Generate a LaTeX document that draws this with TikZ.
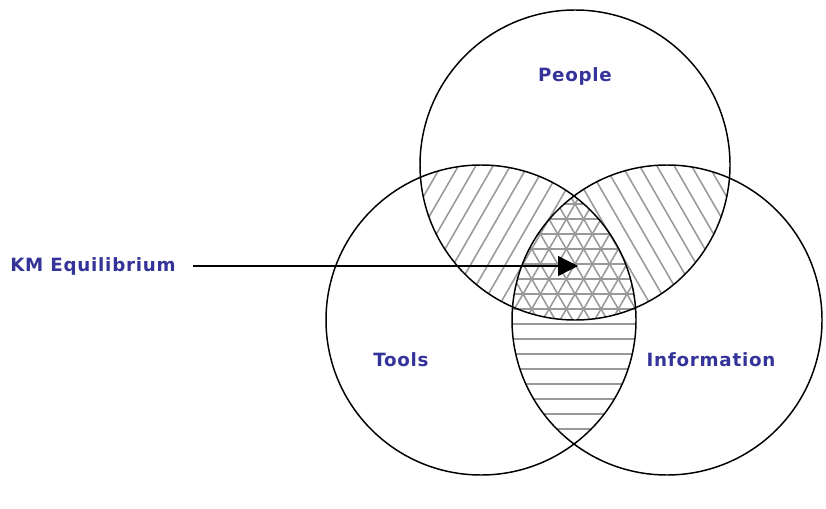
\documentclass[tikz,border=0pt]{standalone}
\usepackage{fontspec}
\usepackage{tikz}
\usetikzlibrary{arrows.meta}
\newfontfamily\vennfont[LetterSpace=4]{DejaVu Sans}
\definecolor{vennblue}{RGB}{51,51,153}

\begin{document}
\begin{tikzpicture}[x=0.025cm, y=0.025cm, >={Triangle[length=0.5cm, width=0.5cm]},
	every node/.style={font=\vennfont\bfseries\fontsize{13}{15}\selectfont, text=vennblue},
	ring/.style={draw, line width=1.05pt},
	hatch/.style={draw=black!40, line width=1.1pt}]
	\useasboundingbox (0,0) rectangle (826,508);
	\coordinate (cP) at (575,343);
	\coordinate (cT) at (481,188);
	\coordinate (cI) at (667,188);
	% hatching of the overlaps, lines of a triangular grid
	\begin{scope}
		\clip (cP) circle [radius=155]; \clip (cT) circle [radius=155];
		\foreach \k in {-22,...,22} \draw[hatch, shift={(575,244)}, rotate=60] (-400,\k*15) -- (400,\k*15);
	\end{scope}
	\begin{scope}
		\clip (cP) circle [radius=155]; \clip (cI) circle [radius=155];
		\foreach \k in {-22,...,22} \draw[hatch, shift={(575,244)}, rotate=-60] (-400,\k*15) -- (400,\k*15);
	\end{scope}
	\begin{scope}
		\clip (cT) circle [radius=155]; \clip (cI) circle [radius=155];
		\foreach \k in {-22,...,22} \draw[hatch, shift={(575,244)}] (-400,\k*15) -- (400,\k*15);
	\end{scope}
	\draw[ring] (cP) circle [radius=155];
	\draw[ring] (cT) circle [radius=155];
	\draw[ring] (cI) circle [radius=155];
	\node (people) at (575,432) {People};
	\node (tools) at (401,148) {Tools};
	\node (information) at (711,148) {Information};
	\node[anchor=west, inner sep=0pt] (km) at (10,242) {KM Equilibrium};
	\coordinate (tip) at (578,242);
	\draw[->, line width=0.9pt] ([xshift=17*0.025cm]km.east) -- (tip);
\end{tikzpicture}
\end{document}
